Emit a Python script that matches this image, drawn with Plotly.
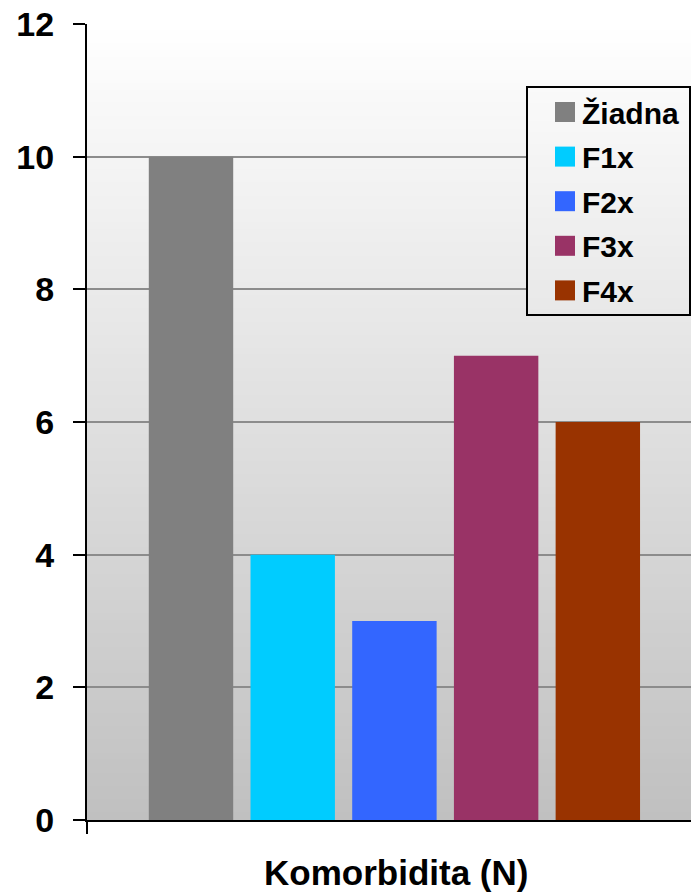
import plotly.graph_objects as go

categories = ["Žiadna", "F1x", "F2x", "F3x", "F4x"]
values = [10, 4, 3, 7, 6]
colors = ["#808080", "#00CCFF", "#3366FF", "#993366", "#993300"]
y_ticks = [0, 2, 4, 6, 8, 10, 12]
x_title = "Komorbidita (N)"

FONT = "Liberation Sans, Arial, sans-serif"
W, H = 691, 892
L, R, T, B = 87, 0, 24, 72
pw, ph = W - L - R, H - T - B

def px_x(p):
    return (p - L) / pw

def px_y(p):
    return (H - B - p) / ph

fig = go.Figure()
xs = list(range(len(categories)))
for i, (c, v, col) in enumerate(zip(categories, values, colors)):
    fig.add_trace(go.Bar(x=[xs[i]], y=[v], name=c, marker=dict(color=col, line=dict(width=0)),
                         width=0.83, showlegend=False))

shapes = []
# gradient background
N = 120
for k in range(N):
    t0, t1 = k / N, (k + 1) / N
    g = int(round(255 - 63 * (t0 + t1) / 2))
    col = f"rgb({g},{g},{g})"
    shapes.append(dict(type="rect", xref="paper", yref="paper", x0=0, x1=1,
                       y0=1 - t1, y1=1 - t0 + 0.001, fillcolor=col, line=dict(width=0), layer="below"))

# legend box
lx0, lx1, ly0, ly1 = 527, 690, 87, 315
M = 40
for k in range(M):
    p0 = ly0 + (ly1 - ly0) * k / M
    p1 = ly0 + (ly1 - ly0) * (k + 1) / M
    t = ((p0 + p1) / 2 - T) / ph
    g = int(round(255 - 63 * t))
    shapes.append(dict(type="rect", xref="paper", yref="paper", x0=px_x(lx0), x1=px_x(lx1),
                       y0=px_y(p1), y1=px_y(p0) + 0.0005, fillcolor=f"rgb({g},{g},{g})",
                       line=dict(width=0), layer="above"))
shapes.append(dict(type="rect", xref="paper", yref="paper", x0=px_x(lx0), x1=px_x(lx1),
                   y0=px_y(ly1), y1=px_y(ly0), line=dict(color="black", width=2),
                   fillcolor="rgba(0,0,0,0)", layer="above"))

annotations = []
for i, (c, col) in enumerate(zip(categories, colors)):
    cy = 112 + 44.6 * i
    shapes.append(dict(type="rect", xref="paper", yref="paper", x0=px_x(555), x1=px_x(575),
                       y0=px_y(cy + 10), y1=px_y(cy - 10), fillcolor=col, line=dict(width=0), layer="above"))
    annotations.append(dict(text=c, xref="paper", yref="paper", x=px_x(580), y=px_y(cy + 1),
                            xanchor="left", yanchor="middle", showarrow=False,
                            font=dict(family=FONT, size=30, color="black", weight="bold")))

annotations.append(dict(text=x_title, xref="x", yref="paper", x=2.02, y=px_y(872),
                        xanchor="center", yanchor="middle", showarrow=False,
                        font=dict(family=FONT, size=35, color="black", weight="bold")))

x_left = -1.0226
x_right = 4.916

fig.update_layout(
    width=W, height=H,
    margin=dict(l=L, r=R, t=T, b=B, pad=0),
    paper_bgcolor="white", plot_bgcolor="rgba(0,0,0,0)",
    barmode="overlay",
    shapes=shapes, annotations=annotations,
    showlegend=False,
    xaxis=dict(range=[x_left, x_right], showgrid=False, zeroline=False,
               showline=True, linecolor="black", linewidth=2,
               tickmode="array", tickvals=[x_left], ticktext=[""],
               ticks="outside", ticklen=12, tickwidth=2, tickcolor="black"),
    yaxis=dict(range=[0, 12], tickmode="array", tickvals=y_ticks,
               showgrid=True, gridcolor="#8C8C8C", gridwidth=1.5, zeroline=False,
               showline=True, linecolor="black", linewidth=2,
               ticks="outside", ticklen=12, tickwidth=2, tickcolor="black",
               ticklabelstandoff=12,
               tickfont=dict(family=FONT, size=34, color="black", weight="bold")),
)

fig.write_html("out.html")
